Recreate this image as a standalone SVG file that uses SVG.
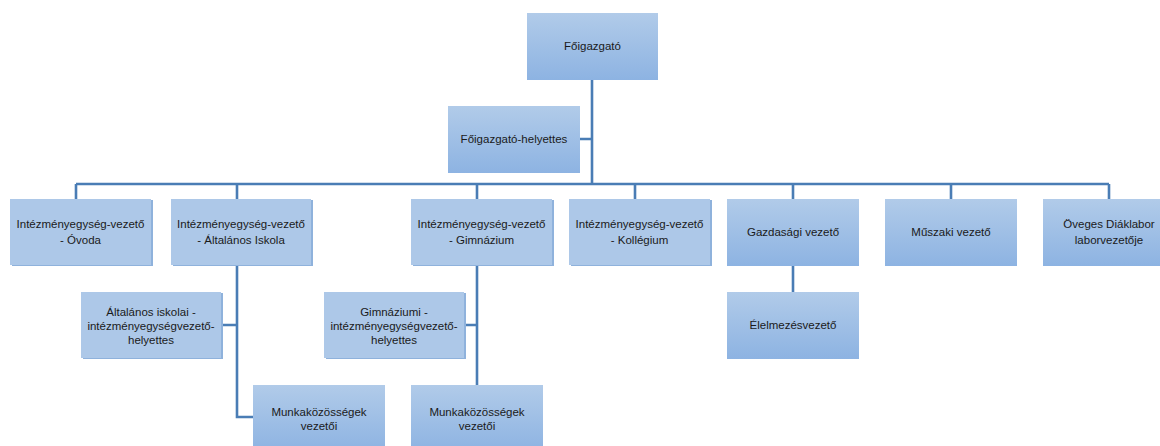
<svg xmlns="http://www.w3.org/2000/svg" width="1160" height="446" viewBox="0 0 1160 446">
<defs>
<linearGradient id="g" x1="0" y1="0" x2="0" y2="1">
<stop offset="0" stop-color="#b1cbe9"/>
<stop offset="1" stop-color="#8db3e2"/>
</linearGradient>
<style>
.grad{fill:url(#g);}
.flat{fill:#adc8e8;}
.sh{fill:#8fb2dc;}
.conn{stroke:#4a7db5;stroke-width:2.6;fill:none;}
text{font-family:"Liberation Sans",Arial,sans-serif;font-size:11.5px;fill:#1a1a1a;text-anchor:middle;}
</style>
</defs>
<rect width="1160" height="446" fill="#ffffff"/>
<g id="connectors">
<path class="conn" d="M592 80V184M580 139H592M76 184H1109"/>
<path class="conn" d="M76 184V199M237 184V199M477 184V199M635 184V199M793 184V199M951 184V199M1109 184V199"/>
<path class="conn" d="M237 265V417H253M221 325H237"/>
<path class="conn" d="M477 265V385M464 325H477"/>
<path class="conn" d="M793 265V292"/>
</g>
<g id="foigazgato"><rect class="grad" x="527" y="13" width="131" height="67"/><text x="592.5" y="50">Főigazgató</text></g>
<g id="foigazgato-helyettes"><rect class="grad" x="448" y="106" width="132" height="67"/><text x="514" y="143">Főigazgató-helyettes</text></g>
<g id="ovoda"><rect class="sh" x="12" y="200" width="141" height="66"/><rect class="flat" x="10" y="199" width="141" height="66"/><text x="80.5" y="228">Intézményegység-vezető</text><text x="80.5" y="244">- Óvoda</text></g>
<g id="altalanos"><rect class="sh" x="173" y="200" width="140" height="66"/><rect class="flat" x="171" y="199" width="140" height="66"/><text x="241" y="228">Intézményegység-vezető</text><text x="241" y="244">- Általános Iskola</text></g>
<g id="gimnazium"><rect class="sh" x="413" y="200" width="141" height="66"/><rect class="flat" x="411" y="199" width="141" height="66"/><text x="481.5" y="228">Intézményegység-vezető</text><text x="481.5" y="244">- Gimnázium</text></g>
<g id="kollegium"><rect class="sh" x="571" y="200" width="141" height="66"/><rect class="flat" x="569" y="199" width="141" height="66"/><text x="639.5" y="228">Intézményegység-vezető</text><text x="639.5" y="244">- Kollégium</text></g>
<g id="gazdasagi"><rect class="grad" x="727" y="199" width="132" height="67"/><text x="793" y="236">Gazdasági vezető</text></g>
<g id="muszaki"><rect class="grad" x="885" y="199" width="132" height="67"/><text x="951" y="236">Műszaki vezető</text></g>
<g id="oveges"><rect class="grad" x="1043" y="199" width="132" height="67"/><text x="1109" y="228">Öveges Diáklabor</text><text x="1109" y="244">laborvezetője</text></g>
<g id="alt-helyettes"><rect class="sh" x="83" y="293" width="140" height="66"/><rect class="flat" x="81" y="292" width="140" height="66"/><text x="151" y="316">Általános iskolai -</text><text x="151" y="330">intézményegységvezető-</text><text x="151" y="344">helyettes</text></g>
<g id="gimn-helyettes"><rect class="sh" x="326" y="293" width="140" height="66"/><rect class="flat" x="324" y="292" width="140" height="66"/><text x="394" y="316">Gimnáziumi -</text><text x="394" y="330">intézményegységvezető-</text><text x="394" y="344">helyettes</text></g>
<g id="elelmezes"><rect class="grad" x="727" y="292" width="132" height="67"/><text x="793" y="329">Élelmezésvezető</text></g>
<g id="munka1"><rect class="grad" x="253" y="385" width="132" height="67"/><text x="319" y="416">Munkaközösségek</text><text x="319" y="430">vezetői</text></g>
<g id="munka2"><rect class="grad" x="411" y="385" width="132" height="67"/><text x="477" y="416">Munkaközösségek</text><text x="477" y="430">vezetői</text></g>
</svg>
